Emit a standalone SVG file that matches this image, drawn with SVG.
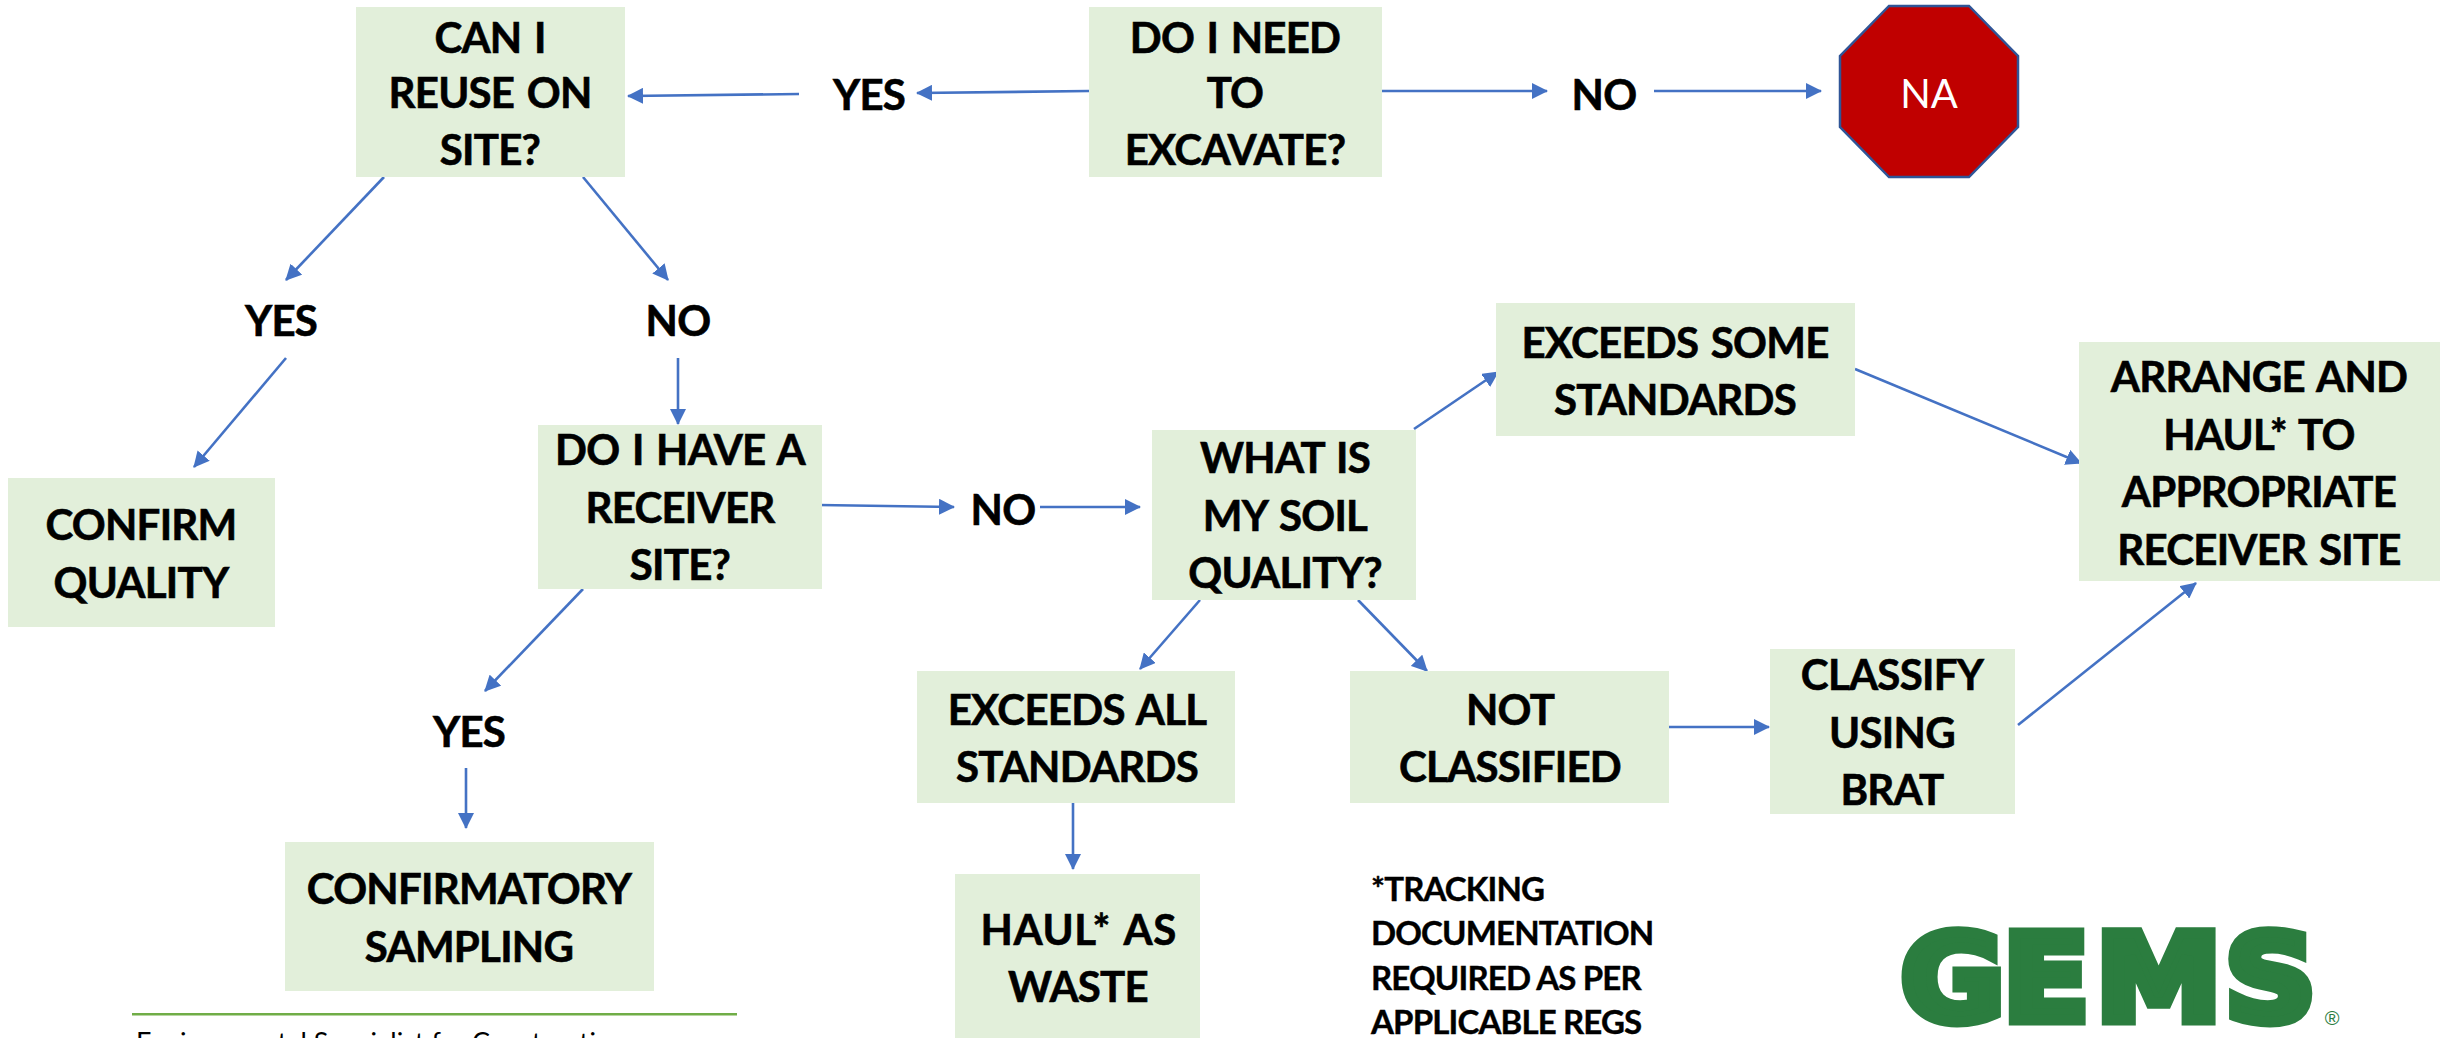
<svg xmlns="http://www.w3.org/2000/svg" width="2451" height="1038" viewBox="0 0 2451 1038">
<style>
.b{fill:#e2efda}
.t{font-family:"Lato","Liberation Sans",sans-serif;font-weight:700;font-size:42px;fill:#000;stroke:#000;stroke-width:.6px;letter-spacing:-.75px;word-spacing:3px;text-anchor:middle}
.f{font-family:"Lato","Liberation Sans",sans-serif;font-weight:700;font-size:33px;fill:#000;stroke:#000;stroke-width:.4px;letter-spacing:-.85px}
.c line{stroke:#4472c4;stroke-width:2.6;marker-end:url(#a)}
</style>
<defs><marker id="a" markerUnits="userSpaceOnUse" markerWidth="16" markerHeight="16" refX="15" refY="8" orient="auto"><path d="M0 0L16 8L0 16Z" fill="#4472c4"/></marker></defs>
<rect width="2451" height="1038" fill="#fff"/>
<g id="connectors" class="c">
<line x1="1089" y1="91" x2="917" y2="93"/>
<line x1="799" y1="94" x2="628" y2="96"/>
<line x1="1382" y1="91" x2="1547" y2="91"/>
<line x1="1654" y1="91" x2="1821" y2="91"/>
<line x1="384" y1="177" x2="286" y2="280"/>
<line x1="583" y1="177" x2="668" y2="280"/>
<line x1="286" y1="358" x2="194" y2="467"/>
<line x1="678" y1="358" x2="678" y2="424"/>
<line x1="819" y1="505" x2="954" y2="507"/>
<line x1="1040" y1="507" x2="1140" y2="507"/>
<line x1="583" y1="589" x2="485" y2="691"/>
<line x1="466" y1="768" x2="466" y2="828"/>
<line x1="1414" y1="429" x2="1498" y2="372"/>
<line x1="1855" y1="369" x2="2081" y2="463"/>
<line x1="1200" y1="600" x2="1140" y2="669"/>
<line x1="1358" y1="600" x2="1427" y2="671"/>
<line x1="1073" y1="803" x2="1073" y2="869"/>
<line x1="1669" y1="727" x2="1769" y2="727"/>
<line x1="2018" y1="725" x2="2196" y2="583"/>
</g>
<g id="n-reuse"><rect class="b" x="356" y="7" width="269" height="170"/><text class="t" x="490" y="53">CAN I</text><text class="t" x="490" y="108">REUSE ON</text><text class="t" x="490" y="165">SITE?</text></g>
<g id="n-excavate"><rect class="b" x="1089" y="7" width="293" height="170"/><text class="t" x="1235" y="53">DO I NEED</text><text class="t" x="1235" y="108">TO</text><text class="t" x="1235" y="165">EXCAVATE?</text></g>
<g id="n-na"><path d="M1889 6H1969L2018 56V127L1969 177H1889L1840 127V56Z" fill="#c00000" stroke="#2f5597" stroke-width="2.5"/><text x="1929" y="108" font-family="Lato,'Liberation Sans',sans-serif" font-size="40" fill="#fff" text-anchor="middle">NA</text></g>
<g id="l-yes1"><text class="t" x="869" y="110">YES</text></g>
<g id="l-no1"><text class="t" x="1604" y="110">NO</text></g>
<g id="l-yes2"><text class="t" x="281" y="336">YES</text></g>
<g id="l-no2"><text class="t" x="678" y="336">NO</text></g>
<g id="n-confirm"><rect class="b" x="8" y="478" width="267" height="149"/><text class="t" x="141" y="540">CONFIRM</text><text class="t" x="141" y="598">QUALITY</text></g>
<g id="n-receiver"><rect class="b" x="538" y="425" width="284" height="164"/><text class="t" x="680" y="465">DO I HAVE A</text><text class="t" x="680" y="523">RECEIVER</text><text class="t" x="680" y="580">SITE?</text></g>
<g id="l-no3"><text class="t" x="1003" y="525">NO</text></g>
<g id="n-soil"><rect class="b" x="1152" y="430" width="264" height="170"/><text class="t" x="1285" y="473">WHAT IS</text><text class="t" x="1285" y="531">MY SOIL</text><text class="t" x="1285" y="588">QUALITY?</text></g>
<g id="n-some"><rect class="b" x="1496" y="303" width="359" height="133"/><text class="t" x="1675" y="358">EXCEEDS SOME</text><text class="t" x="1675" y="415">STANDARDS</text></g>
<g id="n-arrange"><rect class="b" x="2079" y="342" width="361" height="239"/><text class="t" x="2259" y="392">ARRANGE AND</text><text class="t" x="2259" y="450">HAUL* TO</text><text class="t" x="2259" y="507">APPROPRIATE</text><text class="t" x="2259" y="565">RECEIVER SITE</text></g>
<g id="l-yes3"><text class="t" x="469" y="747">YES</text></g>
<g id="n-all"><rect class="b" x="917" y="671" width="318" height="132"/><text class="t" x="1077" y="725">EXCEEDS ALL</text><text class="t" x="1077" y="782">STANDARDS</text></g>
<g id="n-notclass"><rect class="b" x="1350" y="671" width="319" height="132"/><text class="t" x="1510" y="725">NOT</text><text class="t" x="1510" y="782">CLASSIFIED</text></g>
<g id="n-brat"><rect class="b" x="1770" y="649" width="245" height="165"/><text class="t" x="1892" y="690">CLASSIFY</text><text class="t" x="1892" y="748">USING</text><text class="t" x="1892" y="805">BRAT</text></g>
<g id="n-sampling"><rect class="b" x="285" y="842" width="369" height="149"/><text class="t" x="469" y="904">CONFIRMATORY</text><text class="t" x="469" y="962">SAMPLING</text></g>
<g id="n-waste"><rect class="b" x="955" y="874" width="245" height="164"/><text class="t" x="1078" y="945" textLength="195" lengthAdjust="spacing">HAUL* AS</text><text class="t" x="1078" y="1002">WASTE</text></g>
<g id="footnote"><text class="f" x="1371" y="901">*TRACKING</text><text class="f" x="1371" y="945">DOCUMENTATION</text><text class="f" x="1371" y="990">REQUIRED AS PER</text><text class="f" x="1371" y="1034">APPLICABLE REGS</text></g>
<g id="footer"><rect x="132" y="1013" width="605" height="2.5" fill="#70ad47"/><text x="136" y="1052" font-family="Lato,'Liberation Sans',sans-serif" font-size="27" fill="#000">Environmental Specialist for Construction</text></g>
<g id="logo"><text transform="scale(1.05 1)" x="1810.5 1907.6 1996.2 2119" y="1020.5" font-family="'DejaVu Sans',sans-serif" font-weight="700" font-size="120" fill="#2b7d3f" stroke="#2b7d3f" stroke-width="11" stroke-linejoin="miter">GEMS</text><text x="2332" y="1025" font-family="'Liberation Sans',sans-serif" font-size="20" fill="#2b7d3f" text-anchor="middle">®</text></g>
</svg>
